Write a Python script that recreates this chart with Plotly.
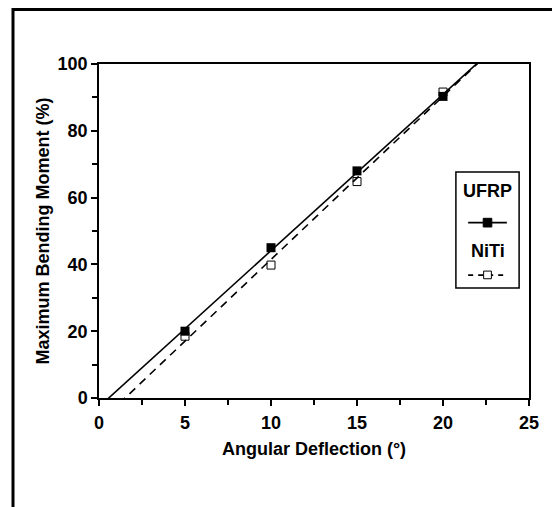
import numpy as np
import plotly.graph_objects as go

# Data
deflection = [5, 10, 15, 20]
ufrp_moment = [20, 45, 68, 90.3]
niti_moment = [18.5, 39.8, 64.8, 91.6]
x_ticks = [0, 5, 10, 15, 20, 25]
y_ticks = [0, 20, 40, 60, 80, 100]

# Linear fits through the data (as drawn in the reference)
fit_x = np.array([0, 25])
u_coef = np.polyfit(deflection, ufrp_moment, 1)
n_coef = np.polyfit(deflection, niti_moment, 1)

fig = go.Figure()
fig.add_trace(go.Scatter(x=fit_x, y=np.polyval(u_coef, fit_x), mode="lines",
                         line=dict(color="black", width=1.6), showlegend=False))
fig.add_trace(go.Scatter(x=fit_x, y=np.polyval(n_coef, fit_x), mode="lines",
                         line=dict(color="black", width=1.6, dash="8px,6px"), showlegend=False))
fig.add_trace(go.Scatter(x=deflection, y=niti_moment, mode="markers",
                         marker=dict(symbol="square-open", size=8, color="black",
                                     line=dict(width=1)), showlegend=False))
fig.add_trace(go.Scatter(x=deflection, y=ufrp_moment, mode="markers",
                         marker=dict(symbol="square", size=9, color="black"), showlegend=False))

font = "Arial, Liberation Sans, sans-serif"

# Outer frame
fig.add_shape(type="rect", xref="paper", yref="paper", x0=-0.2, x1=1.065, y0=-0.40, y1=1.163,
              line=dict(color="black", width=3), layer="below")

# Custom legend box
lx0, lx1, ly0, ly1 = 0.830, 0.977, 0.329, 0.677
fig.add_shape(type="rect", xref="paper", yref="paper", x0=lx0, x1=lx1, y0=ly0, y1=ly1,
              line=dict(color="black", width=1.5), fillcolor="white")
xm = (lx0 + lx1) / 2
fig.add_annotation(x=xm, y=0.620, xref="paper", yref="paper", text="<b>UFRP</b>",
                   xanchor="center", yanchor="middle",
                   showarrow=False, font=dict(family=font, size=18, color="black"))
fig.add_shape(type="line", xref="paper", yref="paper", x0=xm - 0.045, x1=xm + 0.045,
              y0=0.525, y1=0.525, line=dict(color="black", width=1.6))
fig.add_shape(type="rect", xref="paper", yref="paper", x0=xm - 0.010, x1=xm + 0.010,
              y0=0.512, y1=0.538, line=dict(color="black", width=1), fillcolor="black")
fig.add_annotation(x=xm, y=0.440, xref="paper", yref="paper", text="<b>NiTi</b>",
                   xanchor="center", yanchor="middle",
                   showarrow=False, font=dict(family=font, size=18, color="black"))
fig.add_shape(type="line", xref="paper", yref="paper", x0=xm - 0.045, x1=xm + 0.045,
              y0=0.368, y1=0.368, line=dict(color="black", width=1.6, dash="5px,5px"))
fig.add_shape(type="rect", xref="paper", yref="paper", x0=xm - 0.009, x1=xm + 0.009,
              y0=0.357, y1=0.380, line=dict(color="black", width=1), fillcolor="white")

fig.update_xaxes(range=[0, 25], tickvals=x_ticks, ticktext=[f"<b>{t}</b>" for t in x_ticks],
                 ticks="outside", ticklen=6, tickwidth=1.5, automargin=False,
                 ticklabelstandoff=2,
                 tickcolor="black", showline=True, linecolor="black", linewidth=1.5, mirror=True,
                 showgrid=False, zeroline=False,
                 minor=dict(dtick=2.5, ticks="outside", ticklen=5, tickwidth=1.5, tickcolor="black"),
                 tickfont=dict(family=font, size=18, color="black"),
                 title=dict(text="<b>Angular Deflection (°)</b>", font=dict(family=font, size=18, color="black"),
                            standoff=10))
fig.update_yaxes(range=[0, 100], tickvals=y_ticks, ticktext=[f"<b>{t}</b>" for t in y_ticks],
                 ticks="outside", ticklen=6, tickwidth=1.5, automargin=False,
                 tickcolor="black", showline=True, linecolor="black", linewidth=1.5, mirror=True,
                 showgrid=False, zeroline=False,
                 minor=dict(dtick=10, ticks="outside", ticklen=5, tickwidth=1.5, tickcolor="black"),
                 tickfont=dict(family=font, size=18, color="black"),
                 title=dict(text="<b>Maximum Bending Moment (%)</b>", font=dict(family=font, size=18, color="black"),
                            standoff=3))

# page has an 8px body margin, so the figure is sized to fit the 560x507 window
fig.update_layout(width=552, height=499, margin=dict(l=91, r=31, t=56, b=109, autoexpand=False),
                  plot_bgcolor="white", paper_bgcolor="white", showlegend=False)

fig.write_html("out.html")
